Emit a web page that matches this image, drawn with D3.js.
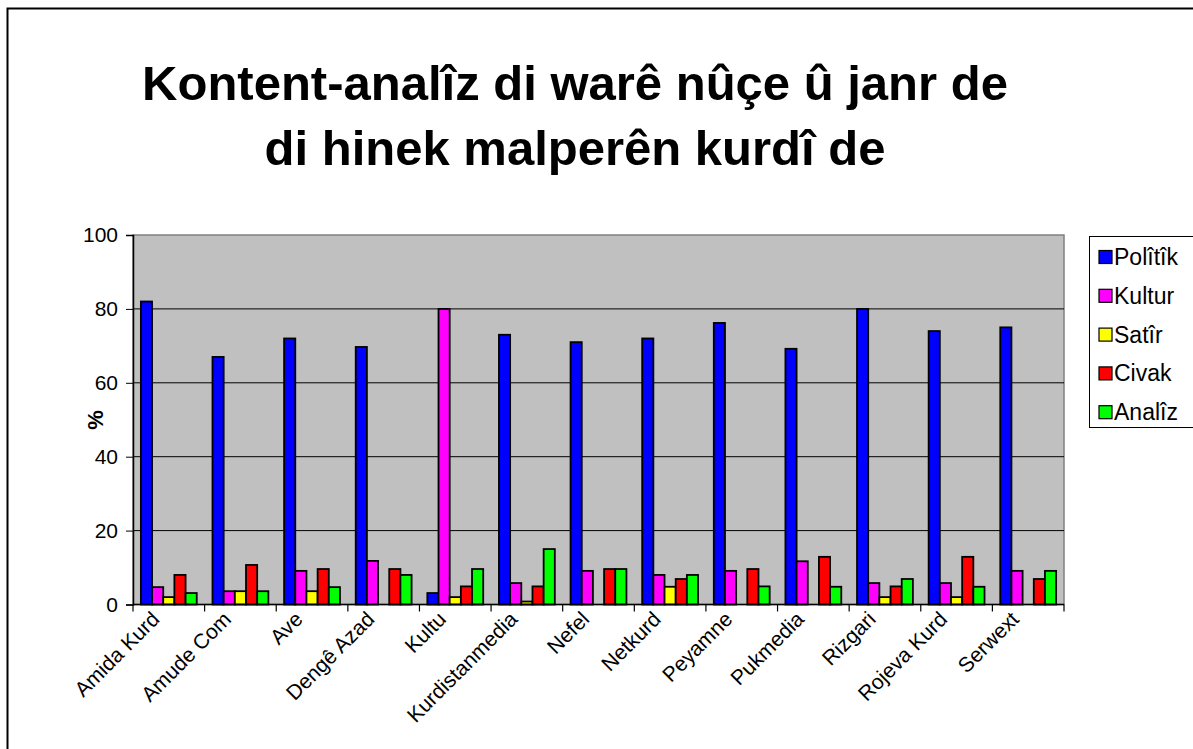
<!DOCTYPE html>
<html>
<head>
<meta charset="utf-8">
<script src="https://cdn.jsdelivr.net/npm/d3@7"></script>
<style>
  body { margin: 0; background: #fff; }
  svg { display: block; font-family: "Liberation Sans", Arial, sans-serif; }
</style>
</head>
<body>
<svg id="chart" width="1193" height="749"></svg>
<script>
// sites on the x axis (labels as they appear, some cut short)
const sites = ["Amida Kurd", "Amude Com", "Ave", "Dengê Azad", "Kultu", "Kurdistanmedia",
  "Nefel", "Netkurd", "Peyamne", "Pukmedia", "Rizgari", "Rojeva Kurd", "Serwext"];

const genres = ["Polîtîk", "Kultur", "Satîr", "Civak", "Analîz"];
const genreColors = ["#0000ff", "#ff00ff", "#ffff00", "#ff0000", "#00ff00"];

// percentages per genre, one value per site
const politik = [82, 67, 72, 69.7, 3.1, 73, 71, 72, 76.2, 69.2, 80, 74, 75];
const kultur  = [4.7, 3.6, 9.1, 11.8, 80, 5.8, 9.1, 8, 9.1, 11.7, 5.8, 5.8, 9.1];
const satir   = [2, 3.6, 3.6, 0, 2, 0.8, 0, 4.8, 0, 0, 2, 2, 0];
const civak   = [8, 10.7, 9.6, 9.6, 4.9, 4.9, 9.6, 6.9, 9.6, 12.9, 4.9, 12.9, 6.9];
const analiz  = [3.1, 3.6, 4.7, 8, 9.6, 15, 9.6, 8, 4.9, 4.8, 6.9, 4.8, 9.1];

const yTicks = [0, 20, 40, 60, 80, 100];

const series = [politik, kultur, satir, civak, analiz];

const svg = d3.select("#chart");

// outer frame (chart is cut off at the right and bottom)
svg.append("rect")
  .attr("x", 7.5).attr("y", 8.5)
  .attr("width", 1300).attr("height", 900)
  .attr("fill", "#fff").attr("stroke", "#000").attr("stroke-width", 2);

// title
const title = svg.append("text")
  .attr("text-anchor", "middle")
  .attr("font-size", 49).attr("font-weight", "bold");
title.append("tspan").attr("x", 575).attr("y", 100).text("Kontent-analîz di warê nûçe û janr de");
title.append("tspan").attr("x", 575).attr("y", 165).text("di hinek malperên kurdî de");

const plot = { left: 133, right: 1064, top: 235, bottom: 604.5 };

const x0 = d3.scaleBand()
  .domain(sites)
  .range([plot.left, plot.right])
  .paddingInner(0.22)
  .paddingOuter(0.11);

const x1 = d3.scaleBand()
  .domain(d3.range(genres.length))
  .range([0, x0.bandwidth()]);

const y = d3.scaleLinear()
  .domain([0, 100])
  .range([plot.bottom, plot.top]);

// plot background
svg.append("rect")
  .attr("x", plot.left).attr("y", plot.top)
  .attr("width", plot.right - plot.left).attr("height", plot.bottom - plot.top)
  .attr("fill", "#c0c0c0").attr("stroke", "#808080").attr("stroke-width", 1.5);

// gridlines
svg.append("g")
  .selectAll("line")
  .data(yTicks.filter(d => d > 0 && d < 100))
  .join("line")
  .attr("x1", plot.left).attr("x2", plot.right)
  .attr("y1", d => y(d)).attr("y2", d => y(d))
  .attr("stroke", "#000").attr("stroke-width", 1);

// bars
const groups = svg.append("g")
  .selectAll("g")
  .data(sites)
  .join("g")
  .attr("transform", d => `translate(${x0(d)},0)`);

groups.selectAll("rect")
  .data((d, i) => series.map((s, k) => ({ k, v: s[i] })).filter(e => e.v > 0))
  .join("rect")
  .attr("x", d => x1(d.k))
  .attr("y", d => y(d.v))
  .attr("width", x1.bandwidth())
  .attr("height", d => y(0) - y(d.v))
  .attr("fill", d => genreColors[d.k])
  .attr("stroke", "#000")
  .attr("stroke-width", 1.8);

// y axis
const yAxis = svg.append("g")
  .attr("transform", `translate(${plot.left},0)`)
  .call(d3.axisLeft(y).tickValues(yTicks).tickSize(7).tickPadding(8));
yAxis.select(".domain").attr("stroke", "#000").attr("stroke-width", 1.5);
yAxis.selectAll("text").attr("font-size", 21).attr("font-family", "Liberation Sans, Arial, sans-serif").attr("fill", "#000");

// x axis: ticks on category boundaries
const xAxis = svg.append("g");
xAxis.append("line")
  .attr("x1", plot.left).attr("x2", plot.right)
  .attr("y1", plot.bottom).attr("y2", plot.bottom)
  .attr("stroke", "#000").attr("stroke-width", 1.5);
const step = x0.step();
xAxis.selectAll("line.tick")
  .data(d3.range(sites.length + 1))
  .join("line")
  .attr("class", "tick")
  .attr("x1", i => plot.left + i * step).attr("x2", i => plot.left + i * step)
  .attr("y1", plot.bottom).attr("y2", plot.bottom + 7)
  .attr("stroke", "#000").attr("stroke-width", 1.2);

xAxis.selectAll("text")
  .data(sites)
  .join("text")
  .attr("text-anchor", "end")
  .attr("font-size", 21)
  .attr("transform", d => `translate(${x0(d) + x0.bandwidth() / 2 - 8},${plot.bottom + 16}) rotate(-45)`)
  .text(d => d);

// y axis title
svg.append("text")
  .attr("transform", "translate(103,420) rotate(-90)")
  .attr("text-anchor", "middle")
  .attr("font-size", 22).attr("font-weight", "bold")
  .text("%");

// legend
const legend = svg.append("g");
legend.append("rect")
  .attr("x", 1089.5).attr("y", 236.5)
  .attr("width", 120).attr("height", 191)
  .attr("fill", "#fff").attr("stroke", "#000").attr("stroke-width", 1);

const items = legend.selectAll("g")
  .data(genres)
  .join("g")
  .attr("transform", (d, i) => `translate(1099,${257 + i * 38.8})`);
items.append("rect")
  .attr("x", 0).attr("y", -6.5)
  .attr("width", 13).attr("height", 13)
  .attr("fill", (d, i) => genreColors[i])
  .attr("stroke", "#000").attr("stroke-width", 1.2);
items.append("text")
  .attr("x", 15).attr("y", 8)
  .attr("font-size", 23)
  .text(d => d);
</script>
</body>
</html>
